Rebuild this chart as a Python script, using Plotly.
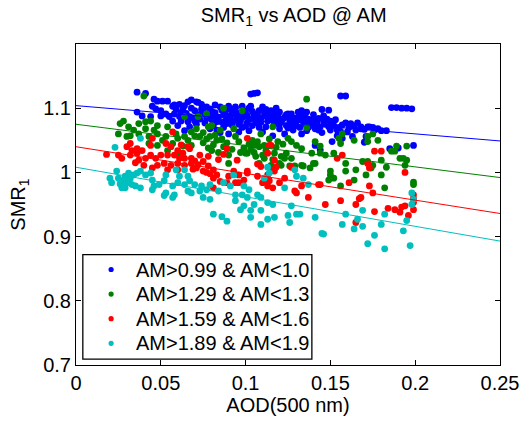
import plotly.graph_objects as go

# ---------------- data (AOD at 500 nm, SMR1) ----------------
series_names = ["AM>0.99 & AM<1.0", "AM>1.29 & AM<1.3", "AM>1.59 & AM<1.6", "AM>1.89 & AM<1.9"]
series_colors = ["#0000ff", "#008000", "#ff0000", "#00bfbf"]

blue_points = [
    [0.036,1.125],[0.041,1.123],[0.045,1.103],[0.048,1.111],[0.051,1.111],[0.054,1.111],[0.047,1.099],
    [0.050,1.096],[0.036,1.094],[0.039,1.088],[0.044,1.087],[0.050,1.088],[0.055,1.087],[0.053,1.091],
    [0.058,1.091],[0.058,1.105],[0.061,1.106],[0.066,1.110],[0.068,1.113],[0.070,1.096],[0.061,1.087],
    [0.066,1.079],[0.060,1.073],[0.067,1.071],[0.064,1.065],[0.063,1.098],[0.065,1.092],[0.069,1.085],
    [0.072,1.090],[0.071,1.110],[0.074,1.106],[0.077,1.102],[0.079,1.099],[0.081,1.073],[0.085,1.102],
    [0.090,1.103],[0.094,1.102],[0.098,1.103],[0.103,1.103],[0.110,1.102],[0.115,1.096],[0.120,1.094],
    [0.127,1.091],[0.133,1.096],[0.136,1.094],[0.138,1.073],[0.133,1.060],[0.123,1.060],[0.116,1.057],
    [0.110,1.063],[0.102,1.065],[0.096,1.063],[0.090,1.060],[0.103,1.122],[0.105,1.123],[0.107,1.124],
    [0.075,1.095],[0.078,1.088],[0.080,1.082],[0.082,1.093],[0.084,1.086],[0.086,1.078],[0.088,1.095],
    [0.089,1.088],[0.091,1.082],[0.092,1.074],[0.093,1.094],[0.095,1.087],[0.097,1.080],[0.099,1.096],
    [0.100,1.072],[0.101,1.088],[0.103,1.083],[0.104,1.095],[0.106,1.077],[0.107,1.090],[0.109,1.084],
    [0.111,1.095],[0.112,1.071],[0.113,1.080],[0.115,1.088],[0.117,1.075],[0.118,1.084],[0.120,1.068],
    [0.121,1.079],[0.123,1.086],[0.124,1.073],[0.126,1.081],[0.128,1.066],[0.129,1.076],[0.130,1.085],
    [0.132,1.070],[0.134,1.079],[0.136,1.065],[0.137,1.083],[0.139,1.074],[0.141,1.068],[0.142,1.078],
    [0.144,1.071],[0.146,1.088],[0.148,1.083],[0.149,1.097],[0.145,1.062],[0.150,1.066],[0.152,1.073],
    [0.153,1.082],[0.156,1.064],[0.159,1.077],[0.159,1.119],[0.161,1.070],[0.163,1.056],[0.166,1.077],
    [0.168,1.068],[0.171,1.056],[0.172,1.071],[0.175,1.070],[0.178,1.068],[0.180,1.065],[0.183,1.065],
    [0.170,1.047],[0.185,1.037],[0.199,1.042],[0.190,1.038],[0.154,1.057],[0.157,1.053],[0.141,1.042],
    [0.144,1.035],[0.151,1.048],[0.186,1.101],[0.189,1.101],[0.192,1.100],[0.195,1.100],[0.198,1.099],
    [0.156,1.119],[0.062,1.080],[0.068,1.100],[0.073,1.083],[0.076,1.077],[0.079,1.068],[0.083,1.066],
    [0.087,1.070],[0.071,1.075],[0.057,1.080],[0.064,1.104],[0.046,1.114],[0.057,1.103],[0.072,1.109],
    [0.082,1.105],[0.094,1.100],[0.125,1.091],[0.131,1.094],[0.145,1.098],[0.150,1.080],[0.168,1.071],
    [0.173,1.071],[0.140,1.090],[0.118,1.100],[0.108,1.070],[0.098,1.070],[0.085,1.062],
    [0.077,1.084],[0.088,1.080],[0.096,1.092],[0.105,1.086],[0.114,1.092],[0.119,1.078],[0.127,1.072],
    [0.135,1.088],[0.143,1.084],[0.147,1.075],[0.155,1.070],[0.160,1.063],[0.164,1.072],
    [0.059,1.098],[0.062,1.093],[0.067,1.087],[0.070,1.080],[0.074,1.098],[0.076,1.091],[0.080,1.095],
    [0.081,1.087],[0.083,1.079],[0.086,1.097],[0.087,1.090],[0.089,1.076],[0.091,1.098],[0.092,1.090],
    [0.094,1.081],[0.096,1.075],[0.098,1.086],[0.100,1.093],[0.101,1.078],[0.102,1.100],[0.104,1.073],
    [0.105,1.091],[0.106,1.083],[0.108,1.096],[0.109,1.078],[0.111,1.088],[0.112,1.098],[0.114,1.084],
    [0.116,1.081],[0.117,1.093],[0.119,1.088],[0.120,1.075],[0.122,1.083],[0.124,1.090],[0.125,1.069],
    [0.127,1.085],[0.128,1.079],[0.130,1.073],[0.131,1.082],[0.133,1.088],[0.135,1.075],[0.137,1.070],
    [0.138,1.079],[0.140,1.083],[0.143,1.066],[0.146,1.079],[0.149,1.071],[0.151,1.077],[0.154,1.066],
    [0.157,1.074],[0.162,1.076],[0.165,1.066],[0.170,1.067],[0.176,1.066],
]

green_points = [
    [0.040,1.119],[0.136,1.114],[0.028,1.080],[0.026,1.076],[0.025,1.060],[0.031,1.071],[0.032,1.057],
    [0.030,1.056],[0.037,1.076],[0.041,1.079],[0.044,1.080],[0.048,1.073],[0.041,1.068],[0.037,1.060],
    [0.043,1.056],[0.048,1.060],[0.054,1.071],[0.059,1.060],[0.064,1.056],[0.068,1.063],[0.060,1.053],
    [0.053,1.056],[0.048,1.042],[0.043,1.045],[0.064,1.087],[0.063,1.041],[0.068,1.042],[0.054,1.034],
    [0.060,1.030],[0.087,1.100],[0.098,1.096],[0.077,1.091],[0.116,1.071],[0.109,1.060],[0.071,1.068],
    [0.075,1.062],[0.078,1.071],[0.082,1.058],[0.085,1.066],[0.073,1.056],[0.079,1.056],[0.083,1.050],
    [0.093,1.068],[0.075,1.046],[0.078,1.038],[0.081,1.043],[0.084,1.031],[0.087,1.040],[0.090,1.027],
    [0.096,1.048],[0.099,1.038],[0.102,1.044],[0.105,1.031],[0.108,1.040],[0.110,1.027],[0.100,1.030],
    [0.112,1.034],[0.117,1.030],[0.119,1.048],[0.127,1.048],[0.133,1.037],[0.139,1.030],[0.121,1.025],
    [0.127,1.022],[0.133,1.011],[0.090,1.014],[0.106,1.025],[0.121,1.011],[0.115,1.011],[0.175,1.060],
    [0.178,1.050],[0.189,1.041],[0.195,1.041],[0.186,1.033],[0.191,1.022],[0.195,1.019],[0.194,1.011],
    [0.183,1.008],[0.175,1.011],[0.169,1.017],[0.165,1.004],[0.159,1.002],[0.155,1.053],[0.156,1.045],
    [0.152,1.030],[0.144,1.041],[0.144,1.030],[0.147,1.027],[0.141,1.048],[0.157,1.060],[0.164,1.050],
    [0.159,1.014],[0.150,1.002],[0.141,1.014],[0.150,0.996],[0.152,0.991],[0.149,0.988],[0.164,0.988],
    [0.156,0.979],[0.171,0.996],[0.180,0.996],[0.182,0.976],[0.199,0.981],[0.138,1.007],[0.134,1.010],
    [0.140,1.014],[0.129,1.010],[0.126,1.010],[0.120,1.014],[0.123,1.022],[0.124,1.030],[0.111,1.022],
    [0.108,1.014],[0.101,1.030],[0.105,1.042],[0.104,1.050],[0.125,1.053],[0.136,1.070],[0.172,1.056],
    [0.172,1.048],[0.172,1.017],[0.180,1.019],[0.193,1.022],[0.188,1.033],[0.174,1.007],[0.072,1.087],
    [0.080,1.073],[0.199,0.985],
    [0.034,1.066],[0.046,1.066],[0.051,1.050],[0.057,1.045],[0.066,1.050],[0.070,1.057],[0.077,1.052],
    [0.080,1.034],[0.086,1.052],[0.089,1.046],[0.092,1.036],[0.094,1.056],[0.097,1.031],[0.103,1.036],
    [0.107,1.048],[0.111,1.042],[0.114,1.052],[0.118,1.039],[0.122,1.044],[0.130,1.042],[0.116,1.020],
]

red_points = [
    [0.018,1.028],[0.025,1.027],[0.027,1.022],[0.032,1.045],[0.033,1.034],[0.036,1.037],[0.032,1.027],
    [0.036,1.030],[0.039,1.034],[0.037,1.019],[0.041,1.022],[0.044,1.027],[0.044,1.042],[0.045,1.053],
    [0.047,1.022],[0.050,1.027],[0.053,1.045],[0.048,1.011],[0.052,1.014],[0.054,1.027],[0.058,1.027],
    [0.060,1.034],[0.057,1.063],[0.061,1.022],[0.064,1.022],[0.056,1.011],[0.060,1.014],[0.064,1.011],
    [0.068,1.022],[0.067,1.037],[0.068,1.014],[0.069,1.005],[0.054,1.004],[0.060,1.004],[0.045,1.007],
    [0.071,1.007],[0.075,1.002],[0.079,0.998],[0.083,0.996],[0.081,0.991],[0.085,0.986],[0.089,0.984],
    [0.081,0.976],[0.090,0.994],[0.093,1.002],[0.096,0.996],[0.099,0.988],[0.096,0.984],[0.101,0.999],
    [0.107,0.994],[0.110,0.984],[0.113,0.979],[0.116,0.976],[0.114,0.987],[0.113,0.996],[0.117,1.002],
    [0.120,0.984],[0.129,0.971],[0.133,0.979],[0.137,0.961],[0.094,0.984],[0.114,1.042],[0.117,1.019],
    [0.107,1.013],[0.109,1.009],[0.101,1.002],[0.101,1.053],[0.123,0.991],[0.127,1.008],[0.118,1.008],
    [0.116,1.004],[0.111,0.987],[0.130,0.968],[0.144,0.981],[0.147,0.950],[0.156,0.956],[0.161,0.984],
    [0.165,0.950],[0.167,0.959],[0.173,0.979],[0.175,0.968],[0.176,0.939],[0.165,0.922],[0.173,1.007],
    [0.172,1.014],[0.176,1.033],[0.180,1.033],[0.154,1.022],[0.157,1.027],[0.194,1.000],[0.188,0.942],
    [0.191,0.938],[0.194,0.948],[0.196,0.933],[0.199,0.965],[0.199,0.959],[0.199,0.953],[0.113,1.030],
    [0.115,1.042],[0.089,1.037],[0.087,1.028],[0.095,1.019],[0.075,1.017],[0.078,1.010],[0.081,1.004],
    [0.077,1.000],[0.072,1.012],[0.070,1.018],[0.073,1.027],[0.078,1.025],[0.084,1.020],[0.063,1.030],
    [0.066,1.040],[0.040,1.011],[0.035,1.015],[0.030,1.040],[0.062,1.043],[0.056,1.040],[0.168,0.961],
    [0.184,0.944],[0.192,0.946],[0.199,0.942],[0.143,0.981],
]

cyan_points = [
    [0.023,1.039],[0.038,1.053],[0.020,0.991],[0.021,0.984],[0.024,1.002],[0.025,0.991],[0.027,0.987],
    [0.029,0.994],[0.028,0.979],[0.031,0.984],[0.033,0.981],[0.027,0.976],[0.029,0.976],[0.035,0.979],
    [0.038,0.976],[0.034,0.996],[0.031,0.999],[0.036,0.999],[0.038,1.002],[0.041,0.996],[0.044,0.999],
    [0.045,0.988],[0.045,0.973],[0.046,0.979],[0.049,0.981],[0.052,0.987],[0.053,0.996],[0.053,0.968],
    [0.052,0.964],[0.057,0.961],[0.058,0.965],[0.057,0.979],[0.060,0.984],[0.061,0.994],[0.059,1.004],
    [0.064,1.004],[0.066,0.994],[0.067,0.987],[0.064,0.981],[0.066,0.971],[0.068,0.968],[0.030,0.988],
    [0.026,0.982],[0.032,0.990],[0.074,0.979],[0.073,0.971],[0.077,0.973],[0.079,0.981],[0.075,0.961],
    [0.079,0.958],[0.084,0.971],[0.087,0.984],[0.091,0.979],[0.093,0.996],[0.099,0.979],[0.102,0.973],
    [0.094,0.965],[0.098,0.965],[0.101,0.961],[0.109,0.961],[0.107,0.965],[0.094,0.956],[0.099,0.948],
    [0.097,0.942],[0.105,0.950],[0.103,0.941],[0.109,0.941],[0.113,0.953],[0.116,0.950],[0.113,0.927],
    [0.117,0.930],[0.123,0.976],[0.127,0.948],[0.125,0.933],[0.126,0.922],[0.130,0.935],[0.109,0.919],
    [0.103,0.930],[0.081,0.935],[0.086,0.931],[0.089,0.924],[0.114,0.999],[0.129,1.004],[0.134,0.991],
    [0.137,0.981],[0.070,0.981],[0.113,1.008],[0.111,0.991],[0.130,0.994],[0.141,0.930],[0.146,0.904],
    [0.159,0.935],[0.157,0.919],[0.166,0.927],[0.169,0.941],[0.169,0.916],[0.164,0.912],[0.176,0.902],
    [0.172,0.889],[0.182,0.935],[0.180,0.919],[0.182,0.881],[0.193,0.909],[0.195,0.925],[0.197,0.886],
    [0.198,0.968],[0.198,0.950],[0.199,0.958],[0.132,0.935],[0.145,0.905],
]

# linear fits: value at AOD=0 and at AOD=0.25
fit_x = [0.0, 0.25]
fit_start = [1.104, 1.075, 1.040, 1.008]
fit_end = [1.049, 0.992, 0.936, 0.893]

x_ticks = [0, 0.05, 0.1, 0.15, 0.2, 0.25]
x_ticktext = ["0", "0.05", "0.1", "0.15", "0.2", "0.25"]
y_ticks = [0.7, 0.8, 0.9, 1.0, 1.1]
y_ticktext = ["0.7", "0.8", "0.9", "1", "1.1"]

FONT = "Liberation Sans, Arial, Helvetica, sans-serif"
FS = 20

fig = go.Figure()
all_points = [blue_points, green_points, red_points, cyan_points]
for name, color, pts in zip(series_names, series_colors, all_points):
    fig.add_trace(go.Scatter(
        x=[p[0] for p in pts], y=[p[1] for p in pts], mode="markers", name=name,
        marker=dict(color=color, size=6.8, line=dict(width=0)), showlegend=False,
    ))
for color, y0, y1 in zip(series_colors, fit_start, fit_end):
    fig.add_trace(go.Scatter(
        x=fit_x, y=[y0, y1], mode="lines", showlegend=False,
        line=dict(color=color, width=1),
    ))

# legend box (drawn in the axes' paper space, MATLAB-style)
leg_x0, leg_x1, leg_y0, leg_y1 = 0.0161, 0.5563, 0.0184, 0.3436
entry_y = [0.2975, 0.2209, 0.1442, 0.0675]
mark_x, text_x = 0.0828, 0.1379
shapes = [dict(type="rect", xref="paper", yref="paper", x0=leg_x0, x1=leg_x1, y0=leg_y0, y1=leg_y1,
               line=dict(color="black", width=1.3), fillcolor="white", layer="above")]
annotations = []
for name, color, ey in zip(series_names, series_colors, entry_y):
    shapes.append(dict(type="circle", xref="paper", yref="paper", xsizemode="pixel", ysizemode="pixel",
                       xanchor=mark_x, yanchor=ey, x0=-2.6, x1=2.6, y0=-2.6, y1=2.6,
                       fillcolor=color, line=dict(width=0), layer="above"))
    annotations.append(dict(text=name, xref="paper", yref="paper", x=text_x, y=ey,
                            xanchor="left", yanchor="middle", showarrow=False,
                            font=dict(family=FONT, size=FS, color="black")))

axis_common = dict(
    showline=True, linecolor="black", linewidth=1, mirror="allticks",
    ticks="inside", ticklen=5, tickcolor="black", tickwidth=1,
    showgrid=False, zeroline=False,
    tickfont=dict(family=FONT, size=FS, color="black"),
)

fig.update_layout(
    width=531, height=423,
    margin=dict(l=76, r=20, t=44, b=53),
    paper_bgcolor="white", plot_bgcolor="white",
    font=dict(family=FONT, size=FS, color="black"),
    title=dict(text="SMR<sub>1</sub> vs AOD @ AM", x=0.553, xanchor="center",
               y=0.965, yanchor="middle", font=dict(family=FONT, size=FS, color="black")),
    xaxis=dict(range=[0, 0.25], tickvals=x_ticks, ticktext=x_ticktext,
               title=dict(text="AOD(500 nm)", standoff=3, font=dict(family=FONT, size=FS)),
               **axis_common),
    yaxis=dict(range=[0.7, 1.2], tickvals=y_ticks, ticktext=y_ticktext,
               title=dict(text="SMR<sub>1</sub>", standoff=12, font=dict(family=FONT, size=FS)),
               **axis_common),
    shapes=shapes,
    annotations=annotations,
    showlegend=False,
)

fig.write_html("out.html")
